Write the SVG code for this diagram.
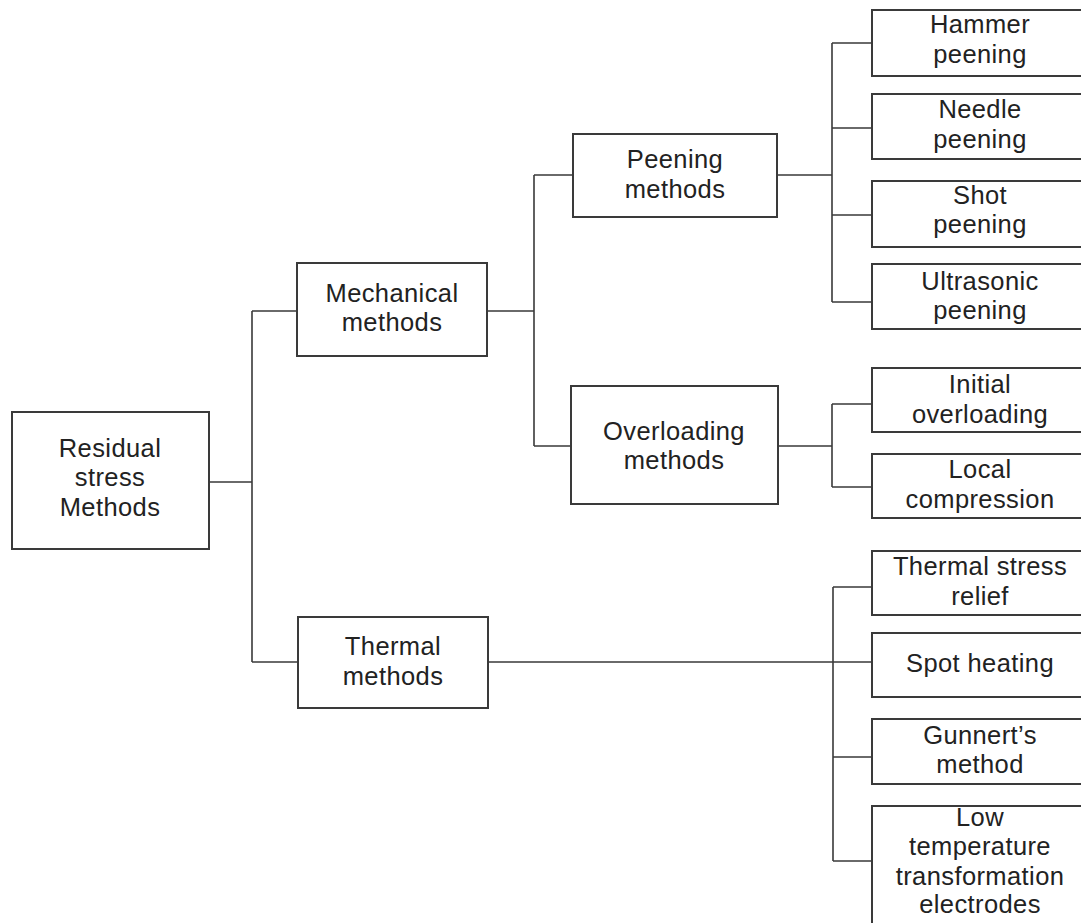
<svg xmlns="http://www.w3.org/2000/svg" width="1081" height="923" viewBox="0 0 1081 923">
<style>
.box{fill:#fff;stroke:#3a3a3a;stroke-width:2}
.ln{fill:none;stroke:#3a3a3a;stroke-width:1.6}
text{font-family:"Liberation Sans",Arial,sans-serif;font-size:25.5px;fill:#222;text-anchor:middle;letter-spacing:0.4px}
</style>
<rect width="1081" height="923" fill="#fff"/>
<g id="connectors" class="ln">
<path d="M209 482H252M252 311V662M252 311H297M252 662H298"/>
<path d="M487 311H534M534 175V446M534 175H573M534 446H571"/>
<path d="M777 175H832M832 43V302M832 43H872M832 128H872M832 215H872M832 302H872"/>
<path d="M778 446H832M832 404V487M832 404H872M832 487H872"/>
<path d="M488 662H872M833 587V861M833 587H872M833 757H872M833 861H872"/>
</g>
<g id="root"><rect class="box" x="12" y="412" width="197" height="137"/><text x="110" y="457">Residual</text><text x="110" y="486">stress</text><text x="110" y="516">Methods</text></g>
<g id="mechanical"><rect class="box" x="297" y="263" width="190" height="93"/><text x="392" y="302">Mechanical</text><text x="392" y="331">methods</text></g>
<g id="thermal"><rect class="box" x="298" y="617" width="190" height="91"/><text x="393" y="655">Thermal</text><text x="393" y="685">methods</text></g>
<g id="peening"><rect class="box" x="573" y="134" width="204" height="83"/><text x="675" y="168">Peening</text><text x="675" y="198">methods</text></g>
<g id="overloading"><rect class="box" x="571" y="386" width="207" height="118"/><text x="674" y="440">Overloading</text><text x="674" y="469">methods</text></g>
<g id="hammer"><rect class="box" x="872" y="10" width="220" height="66"/><text x="980" y="33">Hammer</text><text x="980" y="63">peening</text></g>
<g id="needle"><rect class="box" x="872" y="94" width="220" height="65"/><text x="980" y="118">Needle</text><text x="980" y="148">peening</text></g>
<g id="shot"><rect class="box" x="872" y="181" width="220" height="66"/><text x="980" y="204">Shot</text><text x="980" y="233">peening</text></g>
<g id="ultrasonic"><rect class="box" x="872" y="264" width="220" height="65"/><text x="980" y="290">Ultrasonic</text><text x="980" y="319">peening</text></g>
<g id="initial"><rect class="box" x="872" y="368" width="220" height="64"/><text x="980" y="393">Initial</text><text x="980" y="423">overloading</text></g>
<g id="local"><rect class="box" x="872" y="454" width="220" height="64"/><text x="980" y="478">Local</text><text x="980" y="508">compression</text></g>
<g id="thermalstress"><rect class="box" x="872" y="551" width="220" height="64"/><text x="980" y="575">Thermal stress</text><text x="980" y="605">relief</text></g>
<g id="spot"><rect class="box" x="872" y="633" width="220" height="64"/><text x="980" y="672">Spot heating</text></g>
<g id="gunnert"><rect class="box" x="872" y="719" width="220" height="65"/><text x="980" y="744">Gunnert’s</text><text x="980" y="773">method</text></g>
<g id="lowtemp"><rect class="box" x="872" y="806" width="220" height="140"/><text x="980" y="826">Low</text><text x="980" y="855">temperature</text><text x="980" y="885">transformation</text><text x="980" y="913">electrodes</text></g>
</svg>
